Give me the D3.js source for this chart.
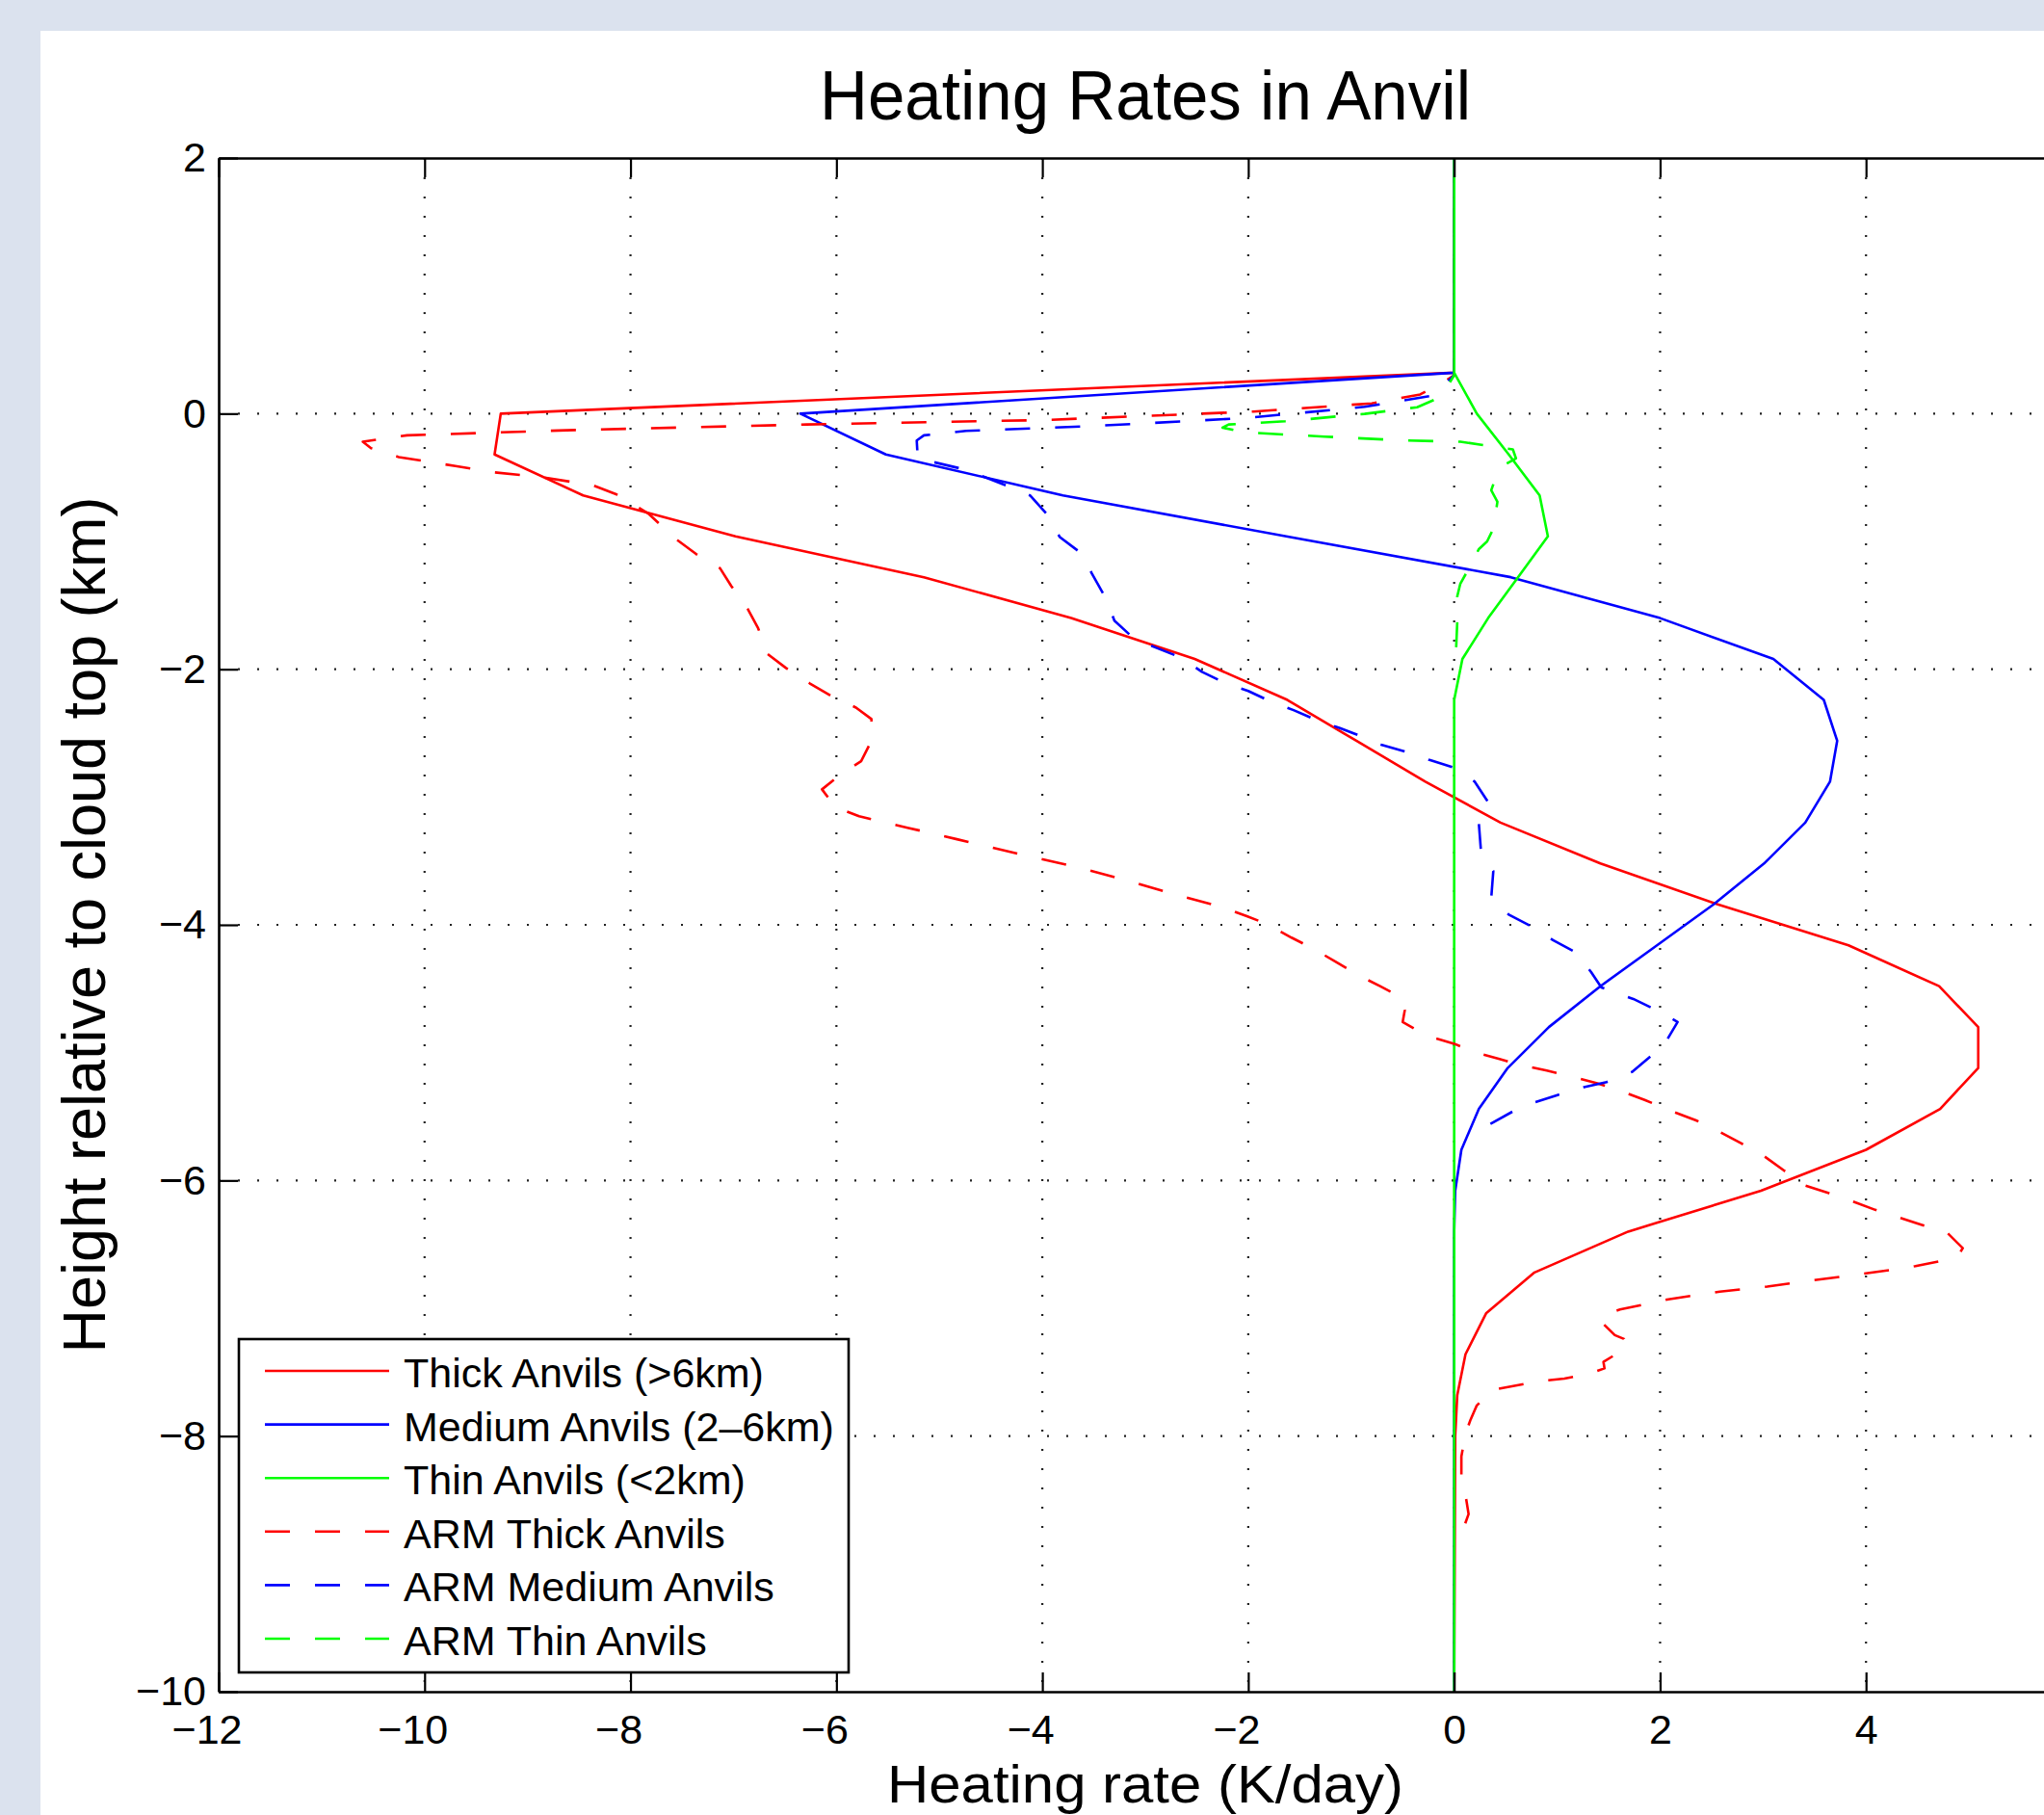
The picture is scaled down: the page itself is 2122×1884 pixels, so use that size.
<!DOCTYPE html>
<html>
<head>
<meta charset="utf-8">
<script src="https://cdn.jsdelivr.net/npm/d3@7"></script>
<style>
  body { margin: 0; background: #dbe2ee; }
  svg { display: block; }
  text { font-family: "Liberation Sans", Arial, Helvetica, sans-serif; fill: #000; }
</style>
</head>
<body>
<div id="chart"></div>
<script>
// tick values
const xTicks = [-12, -10, -8, -6, -4, -2, 0, 2, 4, 6];
const xTickLabels = ['\u221212', '\u221210', '\u22128', '\u22126', '\u22124', '\u22122', '0', '2', '4', ''];
const yTicks = [2, 0, -2, -4, -6, -8, -10];
const yTickLabels = ['2', '0', '\u22122', '\u22124', '\u22126', '\u22128', '\u221210'];

// model layers (km relative to cloud top)
const modelHeights = [2, 0.32, 0, -0.32, -0.64, -0.96, -1.28, -1.60, -1.92, -2.24, -2.56, -2.88,
  -3.20, -3.52, -3.84, -4.16, -4.48, -4.80, -5.12, -5.44, -5.76, -6.08, -6.40, -6.72,
  -7.04, -7.36, -7.68, -8.00, -10];

const thickRate = [0, 0, -9.26, -9.32, -8.46, -6.98, -5.15, -3.72, -2.52, -1.62, -0.95, -0.28,
  0.45, 1.42, 2.56, 3.83, 4.71, 5.09, 5.09, 4.72, 4.0, 2.98, 1.69, 0.78,
  0.31, 0.11, 0.03, 0.01, 0];
const mediumRate = [0, 0, -6.35, -5.52, -3.8, -1.63, 0.55, 2.0, 3.1, 3.59, 3.72, 3.65,
  3.41, 3.01, 2.52, 1.97, 1.42, 0.92, 0.52, 0.24, 0.07, 0.01, 0, 0,
  0, 0, 0, 0, 0];
const thinRate = [0, 0, 0.22, 0.53, 0.83, 0.91, 0.62, 0.33, 0.08, 0, 0, 0,
  0, 0, 0, 0, 0, 0, 0, 0, 0, 0, 0, 0,
  0, 0, 0, 0, 0];

// ARM observations
const armThickRate = [0, 0, -0.1, -0.33, -0.8, -1.95, -3.97, -6.29, -8.62, -10.17, -10.6, -10.52,
  -10.25, -9.7, -9.32, -8.84, -8.37, -8.14, -7.83, -7.56, -7.36, -7.13, -7.02, -6.86,
  -6.76, -6.67, -6.49, -6.26, -6.05, -5.81, -5.66, -5.66, -5.76, -5.97, -6.14, -6.01,
  -5.78, -5.31, -4.83, -4.2, -3.65, -3.19, -2.72, -2.26, -2.02, -1.83, -1.58, -1.36,
  -1.15, -0.94, -0.72, -0.51, -0.48, -0.5, -0.26, 0.0, 0.21, 0.44, 0.67, 0.9,
  1.16, 1.39, 1.62, 1.85, 2.12, 2.35, 2.58, 2.79, 3.01, 3.2, 3.41, 3.64,
  3.86, 4.09, 4.32, 4.55, 4.79, 4.94, 4.9, 4.73, 4.48, 4.24, 3.97, 3.5,
  3.04, 2.58, 2.08, 1.61, 1.5, 1.42, 1.56, 1.65, 1.68, 1.63, 1.45, 1.46,
  1.32, 1.07, 0.84, 0.56, 0.37, 0.22, 0.16, 0.11, 0.07, 0.07, 0.1, 0.14,
  0.1, 0.03];
const armThickHeight = [2, 0.3, 0.25, 0.15, 0.08, 0.016, -0.05, -0.085, -0.13, -0.17, -0.22, -0.27,
  -0.34, -0.41, -0.46, -0.5, -0.56, -0.63, -0.78, -0.98, -1.1, -1.21, -1.35, -1.53,
  -1.68, -1.88, -1.99, -2.11, -2.21, -2.3, -2.39, -2.56, -2.72, -2.83, -2.94, -3.08,
  -3.15, -3.24, -3.33, -3.45, -3.55, -3.65, -3.76, -3.86, -3.93, -3.99, -4.1, -4.19,
  -4.29, -4.39, -4.48, -4.57, -4.67, -4.76, -4.87, -4.93, -5.0, -5.05, -5.1, -5.14,
  -5.19, -5.24, -5.3, -5.37, -5.46, -5.53, -5.62, -5.71, -5.81, -5.92, -6.04, -6.1,
  -6.16, -6.23, -6.29, -6.35, -6.41, -6.53, -6.58, -6.63, -6.67, -6.7, -6.73, -6.78,
  -6.83, -6.87, -6.93, -7.01, -7.04, -7.1, -7.21, -7.24, -7.29, -7.33, -7.42, -7.47,
  -7.51, -7.55, -7.57, -7.61, -7.64, -7.76, -7.87, -7.98, -8.16, -8.31, -8.41, -8.61,
  -8.7, -8.78];

const armMediumRate = [0, 0, -0.21, -0.87, -2.03, -3.58, -4.74, -5.15, -5.22, -5.21, -4.74, -4.31,
  -4.12, -3.94, -3.88, -3.83, -3.61, -3.52, -3.38, -3.3, -3.11, -2.9, -2.65, -2.45,
  -2.22, -2.0, -1.79, -1.56, -1.33, -1.11, -0.92, -0.71, -0.45, -0.24, 0.0, 0.2,
  0.33, 0.24, 0.26, 0.38, 0.36, 0.53, 0.77, 0.96, 1.19, 1.33, 1.43, 1.74,
  1.97, 2.17, 2.06, 1.92, 1.73, 1.48, 1.26, 1.01, 0.78, 0.57, 0.28];
const armMediumHeight = [2, 0.3, 0.14, 0.053, -0.035, -0.1, -0.135, -0.17, -0.21, -0.35, -0.44, -0.575,
  -0.64, -0.8, -0.9, -0.966, -1.1, -1.25, -1.45, -1.62, -1.76, -1.83, -1.91, -2.02,
  -2.11, -2.17, -2.25, -2.32, -2.4, -2.46, -2.52, -2.59, -2.65, -2.71, -2.77, -2.88,
  -3.04, -3.21, -3.42, -3.58, -3.79, -3.92, -4.02, -4.12, -4.22, -4.37, -4.49, -4.58,
  -4.67, -4.76, -4.91, -5.02, -5.15, -5.23, -5.27, -5.33, -5.39, -5.46, -5.59];

const armThinRate = [0, 0, -0.13, -0.36, -0.87, -1.64, -2.19, -2.25, -2.03, -1.26, -0.48, 0.06,
  0.57, 0.6, 0.49, 0.39, 0.36, 0.42, 0.38, 0.32, 0.24, 0.13, 0.06, 0.03,
  0.03, 0.02, 0.0];
const armThinHeight = [2, 0.3, 0.13, 0.05, -0.002, -0.06, -0.085, -0.11, -0.147, -0.18, -0.21, -0.22,
  -0.28, -0.35, -0.4, -0.53, -0.6, -0.69, -0.9, -1.0, -1.06, -1.23, -1.33, -1.43,
  -1.63, -1.82, -1.95];

const seriesNames = ['Thick Anvils (>6km)', 'Medium Anvils (2\u20136km)', 'Thin Anvils (<2km)',
  'ARM Thick Anvils', 'ARM Medium Anvils', 'ARM Thin Anvils'];

const W = 2122, H = 1884;
const colors = ['#ff0000', '#0000ff', '#00ff00', '#ff0000', '#0000ff', '#00ff00'];
const dashed = [false, false, false, true, true, true];

const series = [
  { xs: thickRate, ys: modelHeights },
  { xs: mediumRate, ys: modelHeights },
  { xs: thinRate, ys: modelHeights },
  { xs: armThickRate, ys: armThickHeight },
  { xs: armMediumRate, ys: armMediumHeight },
  { xs: armThinRate, ys: armThinHeight }
].map((s, i) => ({
  name: seriesNames[i],
  color: colors[i],
  dashed: dashed[i],
  points: s.xs.map((v, j) => [v, s.ys[j]])
}));

const plotL = 227, plotR = 2151, plotT = 164, plotB = 1756;

const x = d3.scaleLinear().domain([-12, 6]).range([plotL, plotR]);
const y = d3.scaleLinear().domain([-10, 2]).range([plotB, plotT]);

const svg = d3.select('#chart')
  .append('svg')
  .attr('width', W)
  .attr('height', H);

svg.append('rect').attr('width', W).attr('height', H).attr('fill', '#dbe2ee');
svg.append('rect').attr('x', 42).attr('y', 32).attr('width', W).attr('height', H).attr('fill', '#ffffff');

// grid
const grid = svg.append('g').attr('stroke', '#222').attr('stroke-width', 2.2)
  .attr('stroke-dasharray', '2 18');
grid.selectAll('line.vx')
  .data(xTicks.filter(d => d > -12 && d < 6))
  .enter().append('line')
  .attr('x1', d => x(d)).attr('x2', d => x(d))
  .attr('y1', plotT).attr('y2', plotB);
grid.selectAll('line.hy')
  .data(yTicks.filter(d => d > -10 && d < 2))
  .enter().append('line')
  .attr('x1', plotL).attr('x2', plotR)
  .attr('y1', d => y(d)).attr('y2', d => y(d));

// curves
const line = d3.line().x(d => x(d[0])).y(d => y(d[1]));
svg.append('g').selectAll('path')
  .data(series)
  .enter().append('path')
  .attr('d', d => line(d.points))
  .attr('fill', 'none')
  .attr('stroke', d => d.color)
  .attr('stroke-width', 2.6)
  .attr('stroke-linejoin', 'round')
  .attr('stroke-dasharray', d => d.dashed ? '26 26' : null);

// axes
const xAxis = svg.append('g')
  .attr('transform', `translate(0,${plotB})`)
  .call(d3.axisBottom(x).tickValues(xTicks).tickSizeInner(-20).tickSizeOuter(0)
    .tickPadding(23).tickFormat((d, i) => xTickLabels[i]));
xAxis.selectAll('text').attr('dx', d => d < 0 ? '-0.29em' : null);

svg.append('g')
  .attr('transform', `translate(0,${plotT})`)
  .call(d3.axisTop(x).tickValues(xTicks).tickSizeInner(-20).tickSizeOuter(0).tickFormat(''));

svg.append('g')
  .attr('transform', `translate(${plotL},0)`)
  .call(d3.axisLeft(y).tickValues(yTicks).tickSizeInner(-20).tickSizeOuter(0)
    .tickPadding(13).tickFormat((d, i) => yTickLabels[i]));

svg.append('g')
  .attr('transform', `translate(${plotR},0)`)
  .call(d3.axisRight(y).tickValues(yTicks).tickSizeInner(-20).tickSizeOuter(0).tickFormat(''));

svg.selectAll('.domain').attr('stroke', '#000').attr('stroke-width', 2.6);
svg.selectAll('.tick line').attr('stroke', '#000').attr('stroke-width', 2.2);
svg.selectAll('.tick text')
  .style('font-family', '"Liberation Sans", Arial, sans-serif')
  .style('font-size', '43px')
  .attr('fill', '#000');

// titles
svg.append('text')
  .attr('x', (plotL + plotR) / 2).attr('y', 124)
  .attr('text-anchor', 'middle')
  .style('font-size', '73px')
  .attr('textLength', 676).attr('lengthAdjust', 'spacingAndGlyphs')
  .text('Heating Rates in Anvil');

// a bit smaller than the reference so it fits under the tick labels and inside the page
svg.append('text')
  .attr('x', (plotL + plotR) / 2).attr('y', 1871)
  .attr('text-anchor', 'middle')
  .style('font-size', '56px')
  .attr('textLength', 536).attr('lengthAdjust', 'spacingAndGlyphs')
  .text('Heating rate (K/day)');

svg.append('text')
  .attr('transform', `translate(109,${(plotT + plotB) / 2}) rotate(-90)`)
  .attr('text-anchor', 'middle')
  .style('font-size', '63px')
  .attr('textLength', 889).attr('lengthAdjust', 'spacingAndGlyphs')
  .text('Height relative to cloud top (km)');

// legend
const lg = svg.append('g');
lg.append('rect')
  .attr('x', 248).attr('y', 1390).attr('width', 633).attr('height', 346)
  .attr('fill', '#fff').attr('stroke', '#000').attr('stroke-width', 2.6);
const rows = lg.selectAll('g.row')
  .data(series)
  .enter().append('g')
  .attr('transform', (d, i) => `translate(0,${1423 + i * 55.6})`);
rows.append('line')
  .attr('x1', 275).attr('x2', 404)
  .attr('stroke', d => d.color)
  .attr('stroke-width', 2.6)
  .attr('stroke-dasharray', d => d.dashed ? '26 26' : null);
rows.append('text')
  .attr('x', 419).attr('y', 17)
  .style('font-size', '43px')
  .text(d => d.name);
</script>
</body>
</html>
